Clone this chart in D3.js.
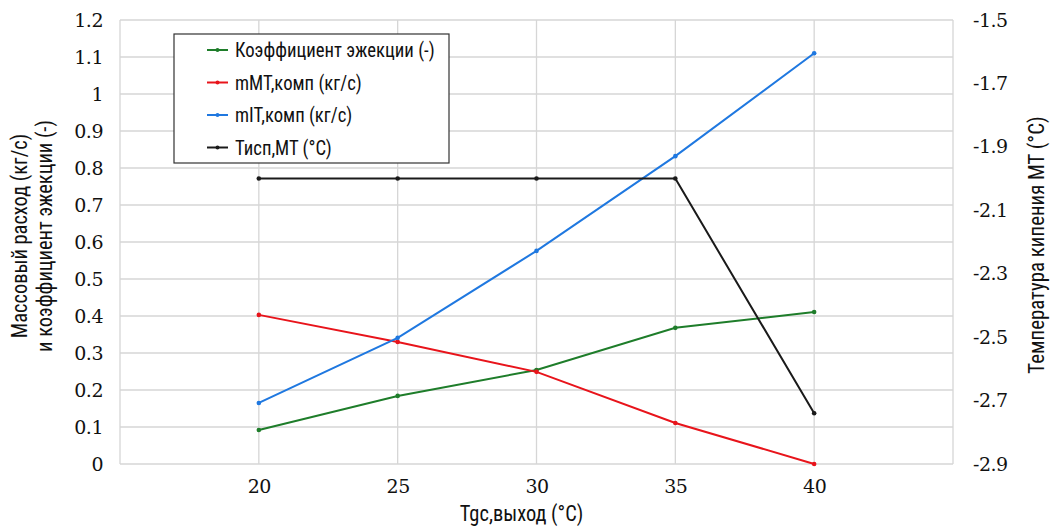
<!DOCTYPE html>
<html><head><meta charset="utf-8">
<script src="https://cdn.jsdelivr.net/npm/d3@7"></script>
<style>body{margin:0;background:#fff} .tk text{font-family:"DejaVu Serif","Noto Serif","Liberation Serif",serif;font-size:19px;letter-spacing:-0.5px}</style>
</head><body>
<svg id="c" width="1051" height="529"></svg>
<script>
const xValues = [20, 25, 30, 35, 40];
const ejection = [0.092, 0.184, 0.254, 0.368, 0.411];
const mMT = [0.403, 0.330, 0.249, 0.111, 0.0];
const mIT = [0.165, 0.341, 0.576, 0.832, 1.110];
const tIsp = [-2.0, -2.0, -2.0, -2.0, -2.74];
const leftTicks = [0, 0.1, 0.2, 0.3, 0.4, 0.5, 0.6, 0.7, 0.8, 0.9, 1, 1.1, 1.2];
const rightTicks = [-2.9, -2.7, -2.5, -2.3, -2.1, -1.9, -1.7, -1.5];
const xTicks = [20, 25, 30, 35, 40];
const seriesNames = ["Коэффициент эжекции (-)", "mMT,комп (кг/с)", "mIT,комп (кг/с)", "Тисп,MT (°C)"];
const seriesColors = ["#1e7d2a", "#e8141b", "#1f78e0", "#1a1a1a"];

const svg = d3.select("#c");
const L = 120, R = 953, T = 20, B = 464;
const x = d3.scaleLinear().domain([15, 45]).range([L, R]);
const yL = d3.scaleLinear().domain([0, 1.2]).range([B, T]);
const yR = d3.scaleLinear().domain([-2.9, -1.5]).range([B, T]);
const grid = "#d6d6d6";
const cond = "'Roboto Condensed', 'Liberation Sans Narrow', 'DejaVu Sans Condensed', Roboto, sans-serif";

svg.append("g").selectAll("line").data(leftTicks).join("line")
  .attr("x1", L).attr("x2", R).attr("y1", d => yL(d)).attr("y2", d => yL(d))
  .attr("stroke", grid).attr("stroke-width", 1.3);
svg.append("g").selectAll("line").data([15, ...xTicks, 45]).join("line")
  .attr("y1", T).attr("y2", B).attr("x1", d => x(d)).attr("x2", d => x(d))
  .attr("stroke", grid).attr("stroke-width", 1.3);

const axL = svg.append("g").attr("transform", `translate(${L},0)`)
  .call(d3.axisLeft(yL).tickValues(leftTicks).tickSize(0).tickPadding(17).tickFormat(d3.format("~g")));
const axR = svg.append("g").attr("transform", `translate(${R},0)`)
  .call(d3.axisRight(yR).tickValues(rightTicks).tickSize(0).tickPadding(20).tickFormat(d => d.toFixed(1)));
const axB = svg.append("g").attr("transform", `translate(0,${B})`)
  .call(d3.axisBottom(x).tickValues(xTicks).tickSize(0).tickPadding(16));
[axL, axR, axB].forEach(a => {
  a.attr("font-family", null).attr("font-size", null).attr("class", "tk");
  a.select(".domain").remove();
  a.selectAll("text").attr("fill", "#111");
});

const leftSeries = [ejection, mMT, mIT];
const line = (ys, yScale) => d3.line().x((d, i) => x(xValues[i])).y(d => yScale(d))(ys);
leftSeries.forEach((s, k) => {
  svg.append("path").attr("d", line(s, yL)).attr("fill", "none")
    .attr("stroke", seriesColors[k]).attr("stroke-width", 2);
  svg.append("g").selectAll("circle").data(s).join("circle")
    .attr("cx", (d, i) => x(xValues[i])).attr("cy", d => yL(d)).attr("r", 2.3)
    .attr("fill", seriesColors[k]);
});
svg.append("path").attr("d", line(tIsp, yR)).attr("fill", "none")
  .attr("stroke", seriesColors[3]).attr("stroke-width", 2);
svg.append("g").selectAll("circle").data(tIsp).join("circle")
  .attr("cx", (d, i) => x(xValues[i])).attr("cy", d => yR(d)).attr("r", 2.3)
  .attr("fill", seriesColors[3]);

const lg = svg.append("g").attr("transform", "translate(174,34)");
lg.append("rect").attr("width", 275).attr("height", 129).attr("fill", "#fff")
  .attr("stroke", "#333").attr("stroke-width", 1.2);
seriesNames.forEach((n, i) => {
  const yy = 16 + i * 32.5;
  lg.append("line").attr("x1", 33).attr("x2", 54).attr("y1", yy).attr("y2", yy)
    .attr("stroke", seriesColors[i]).attr("stroke-width", 2);
  lg.append("circle").attr("cx", 43.5).attr("cy", yy).attr("r", 2).attr("fill", seriesColors[i]);
  lg.append("text").attr("transform", `translate(61,${yy}) scale(0.935,1)`).attr("dy", "0.35em")
    .style("font-family", cond).style("font-size", "20px").attr("fill", "#111").text(n);
});

const lt = svg.append("text").attr("transform", "translate(27,236) rotate(-90) scale(0.93,1)")
  .attr("text-anchor", "middle").style("font-family", cond).style("font-size", "22px").attr("fill", "#111");
lt.append("tspan").attr("x", 0).attr("dy", 0).text("Массовый расход (кг/с)");
lt.append("tspan").attr("x", 0).attr("dy", 25).text("и коэффициент эжекции (-)");
svg.append("text").attr("transform", "translate(1044,245) rotate(-90) scale(0.95,1)")
  .attr("text-anchor", "middle").style("font-family", cond).style("font-size", "22px").attr("fill", "#111")
  .text("Температура кипения МТ (°C)");
svg.append("text").attr("transform", `translate(${x(30) - 15},521) scale(0.93,1)`).attr("text-anchor", "middle")
  .style("font-family", cond).style("font-size", "22px").attr("fill", "#111").text("Tgc,выход (°C)");
</script>
</body></html>
